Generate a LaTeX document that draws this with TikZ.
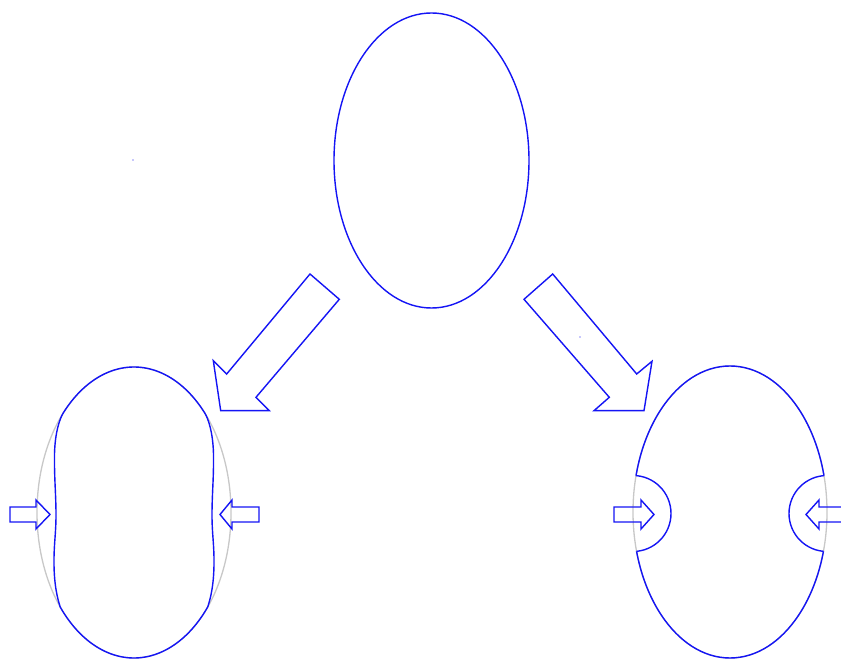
\documentclass[tikz,border=0pt]{standalone}
\usetikzlibrary{calc}
\definecolor{lineblue}{RGB}{20,20,245}
\definecolor{ghost}{RGB}{200,200,200}
\tikzset{
  bl/.style={draw=lineblue,line width=1.4pt,line join=miter},
  gr/.style={draw=ghost,line width=1.3pt},
}
\begin{document}
\begin{tikzpicture}[x=1pt,y=1pt]
\clip (0,0) rectangle (841,659);
\fill[white] (0,0) rectangle (841,659);
% top ellipse
\draw[bl] (431.5,498.5) ellipse[x radius=97.5,y radius=147.5];
% big arrows
\draw[bl] (310,385) -- (226.7,285) -- (213.3,298.3) -- (220.7,248.3) -- (269.3,248.3) -- (256,261.7) -- (339.3,359.7) -- cycle;
\draw[bl] (552.7,385) -- (636.7,285) -- (652,297.7) -- (644,248.3) -- (594,248.3) -- (609.3,261.7) -- (524,359.7) -- cycle;
% tiny dots
\fill[lineblue] (133,499) circle[radius=0.7];
\fill[lineblue] (580,322) circle[radius=0.7];
% bottom-left: original ellipse and squeezed shape
\draw[gr] (134,146.5) ellipse[x radius=97,y radius=145.5];
\draw[bl] (204.7,246.1) arc[start angle=43.2,end angle=136.8,x radius=97,y radius=145.5]
  .. controls (59.5,240) and (55,226) .. (54.5,205)
  .. controls (54.2,180) and (56,165) .. (56,144)
  .. controls (56,125) and (53.8,115) .. (54,95)
  .. controls (54.2,75) and (57,62) .. (60.2,52)
  arc[start angle=220.5,end angle=319.5,x radius=97,y radius=145.5]
  .. controls (211,62) and (213.8,75) .. (214,95)
  .. controls (214.2,115) and (212,125) .. (212,144)
  .. controls (212,165) and (213.8,180) .. (213.5,205)
  .. controls (213,226) and (208.5,240) .. (204.7,246.1) -- cycle;
\draw[bl] (10,137) -- (36,137) -- (36,130) -- (50,144.5) -- (36,159) -- (36,152) -- (10,152) -- cycle;
\draw[bl] (259,137) -- (232,137) -- (232,130) -- (220,144.5) -- (232,159) -- (232,152) -- (259,152) -- cycle;
% bottom-right: ellipse with dents
\draw[gr] (730,147) ellipse[x radius=97,y radius=146];
\begin{scope}[even odd rule]
  \clip (0,0) rectangle (841,659) (633,145.5) circle[radius=38] (827,145.5) circle[radius=38];
  \draw[bl] (730,147) ellipse[x radius=97,y radius=146];
\end{scope}
\begin{scope}
  \clip (730,147) ellipse[x radius=97,y radius=146];
  \draw[bl] (633,145.5) circle[radius=38];
  \draw[bl] (827,145.5) circle[radius=38];
\end{scope}
\draw[bl] (614,137) -- (641,137) -- (641,130) -- (654,144.5) -- (641,159) -- (641,152) -- (614,152) -- cycle;
\draw[bl] (850,137) -- (819,137) -- (819,130) -- (806,144.5) -- (819,159) -- (819,152) -- (850,152) -- cycle;
\end{tikzpicture}
\end{document}
